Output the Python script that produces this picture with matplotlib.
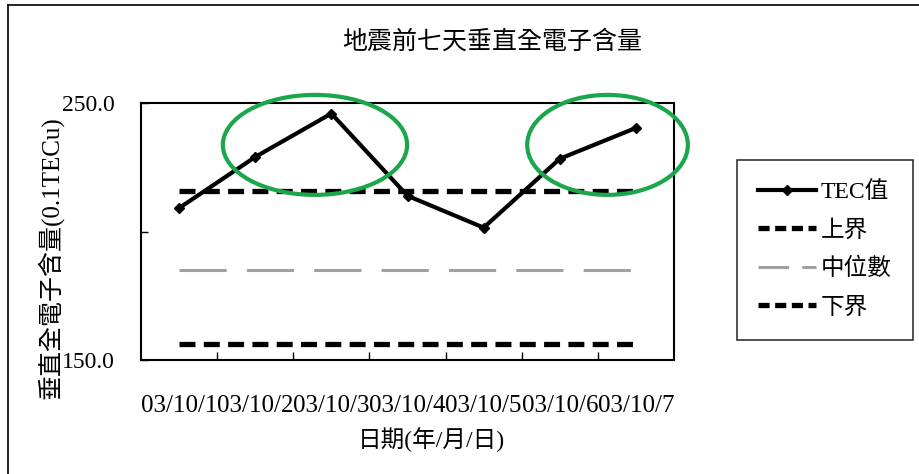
import matplotlib
matplotlib.use("Agg")
import matplotlib.pyplot as plt
from matplotlib.lines import Line2D
from matplotlib.patches import Ellipse

plt.rcParams['font.family'] = ['Liberation Serif', 'Noto Sans CJK TC']
plt.rcParams['lines.scale_dashes'] = False

# TEC for the seven days before the quake (0.1 TECu)
dates = ['03/10/1', '03/10/2', '03/10/3', '03/10/4', '03/10/5', '03/10/6', '03/10/7']
tec = [209.1, 229.0, 245.9, 213.9, 201.5, 228.3, 240.3]
upper = 215.9
median = 184.9
lower = 156.2

# highlighted stretches: (center x, center y, width, height) in data units
highlights = [(1.785, 233.7, 2.42, 38.9), (5.627, 233.7, 2.11, 38.9)]

fig = plt.figure(figsize=(9.2, 4.74), dpi=100)
ax = fig.add_axes([141 / 920, 114 / 474, 533 / 920, 257 / 474])

x = list(range(len(dates)))
ax.plot(x, tec, color='black', lw=3, marker='D', ms=5, zorder=4)
ax.plot(x, [upper] * len(x), color='black', lw=3.8, dashes=(11.5, 6))
ax.plot(x, [median] * len(x), color='#a0a0a0', lw=2.2, dashes=(34, 14.5))
ax.plot(x, [lower] * len(x), color='black', lw=3.8, dashes=(11.5, 6))

for cx, cy, w, h in highlights:
    ax.add_patch(Ellipse((cx, cy), w, h, fill=False, edgecolor='#1ba64b',
                         lw=3, clip_on=False, zorder=5))

ax.set_xlim(-0.5, len(dates) - 0.5)
ax.set_ylim(150, 250)
ax.set_xticks(x)
ax.set_xticklabels(dates, fontsize=18)
ax.set_xticks([i + 0.5 for i in x[:-1]], minor=True)
ax.tick_params(axis='x', which='major', length=0, pad=25)
ax.tick_params(axis='x', which='minor', direction='in', length=6, width=1)
ax.set_yticks([150, 200, 250])
ax.set_yticklabels(['150.0', '', '250.0'], fontsize=17)
ax.tick_params(axis='y', direction='in', length=5, width=1, pad=19)
for s in ax.spines.values():
    s.set_linewidth(1.5)

fig.text(492 / 920, 1 - 42 / 474, '地震前七天垂直全電子含量', fontsize=18,
         ha='center', va='center')
fig.text(431 / 920, 1 - 440 / 474, '日期(年/月/日)', fontsize=17,
         ha='center', va='center')
fig.text(50 / 920, 1 - 258 / 474, '垂直全電子含量(0.1TECu)', fontsize=18,
         ha='center', va='center', rotation=90)

# legend keys (shorter dash pattern for the median key)
handles = [
    Line2D([], [], color='black', lw=3, marker='D', ms=5),
    Line2D([], [], color='black', lw=3.8, dashes=(8, 4)),
    Line2D([], [], color='#a0a0a0', lw=2.2, dashes=(22, 9.5)),
    Line2D([], [], color='black', lw=3.8, dashes=(8, 4)),
]
labels = ['TEC值', '上界', '中位數', '下界']
leg = ax.legend(handles, labels, loc='upper left',
                bbox_to_anchor=(737 / 920, 1 - 160 / 474),
                bbox_transform=fig.transFigure, fontsize=17, frameon=True,
                fancybox=False, shadow=False, handlelength=2.45,
                handletextpad=0.2, labelspacing=0.7, borderpad=0.9,
                borderaxespad=0)
leg.get_frame().set_edgecolor('black')
leg.get_frame().set_linewidth(1.2)

# outer frame edges
fig.add_artist(Line2D([8 / 920, 8 / 920], [0, 1 - 5 / 474], color='black', lw=1.2))
fig.add_artist(Line2D([8 / 920, 1], [1 - 5 / 474, 1 - 5 / 474], color='black', lw=1.2))

fig.savefig('out.png', dpi=100)
